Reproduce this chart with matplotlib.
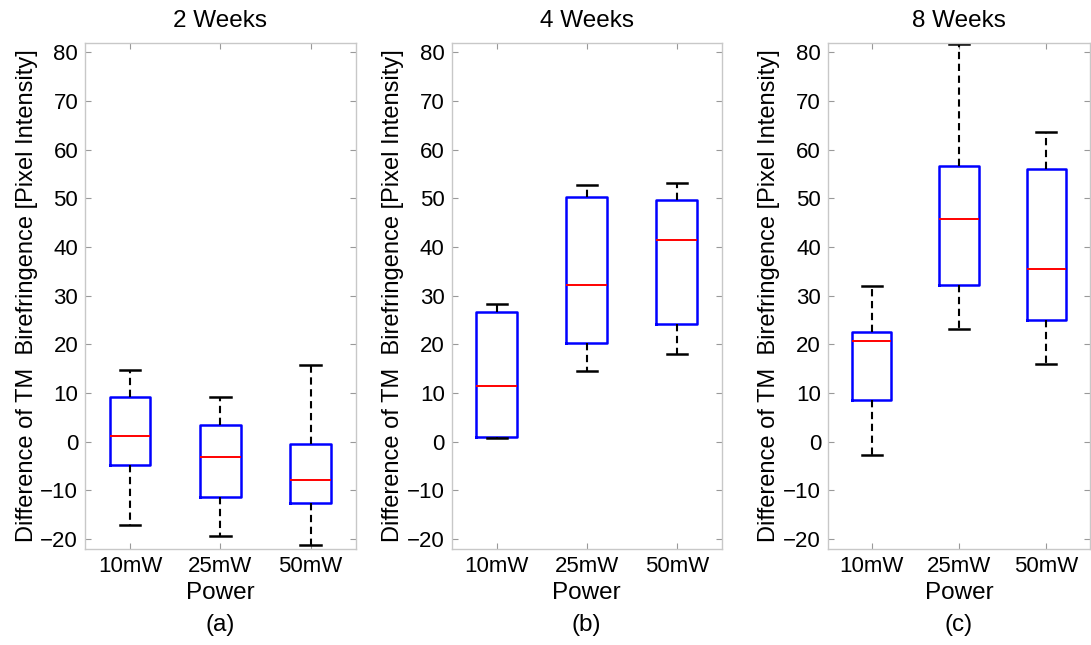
import matplotlib
matplotlib.use('Agg')
import matplotlib.pyplot as plt

plt.rcParams['font.family'] = ['Liberation Sans', 'DejaVu Sans']
plt.rcParams['font.size'] = 16

# Etiquetas
powers = ['10mW', '25mW', '50mW']
titles = ['2 Weeks', '4 Weeks', '8 Weeks']
panels = ['(a)', '(b)', '(c)']

# Estatisticas dos boxplots: min, q1, mediana, q3, max
w2_whislo = [-17.1, -19.3, -21.3]
w2_q1 = [-4.7, -11.4, -12.5]
w2_med = [1.2, -3.2, -7.8]
w2_q3 = [9.3, 3.5, -0.5]
w2_whishi = [14.8, 9.3, 15.7]

w4_whislo = [0.8, 14.5, 18.0]
w4_q1 = [1.0, 20.3, 24.2]
w4_med = [11.5, 32.3, 41.4]
w4_q3 = [26.6, 50.3, 49.7]
w4_whishi = [28.3, 52.8, 53.1]

w8_whislo = [-2.8, 23.1, 15.9]
w8_q1 = [8.6, 32.3, 25.1]
w8_med = [20.6, 45.8, 35.4]
w8_q3 = [22.5, 56.6, 56.1]
w8_whishi = [31.9, 81.7, 63.7]

grupos = [
    (w2_whislo, w2_q1, w2_med, w2_q3, w2_whishi),
    (w4_whislo, w4_q1, w4_med, w4_q3, w4_whishi),
    (w8_whislo, w8_q1, w8_med, w8_q3, w8_whishi),
]

fig = plt.figure(figsize=(10.91, 6.45), dpi=100)
posicoes = [
    [0.078, 0.149, 0.248, 0.785],
    [0.414, 0.149, 0.2475, 0.785],
    [0.759, 0.149, 0.240, 0.785],
]

for i, (lo, q1, med, q3, hi) in enumerate(grupos):
    ax = fig.add_axes(posicoes[i])
    stats = []
    for j in range(len(powers)):
        stats.append({'whislo': lo[j], 'q1': q1[j], 'med': med[j],
                      'q3': q3[j], 'whishi': hi[j], 'fliers': [],
                      'label': powers[j]})
    ax.bxp(stats, positions=[1, 2, 3], widths=0.45, showfliers=False,
           boxprops=dict(color='#0000ff', linewidth=1.8),
           medianprops=dict(color='#ff0000', linewidth=1.4),
           whiskerprops=dict(color='black', linewidth=1.5, linestyle=(0, (3.5, 2.2))),
           capprops=dict(color='black', linewidth=1.8))

    ax.set_xlim(0.5, 3.5)
    ax.set_ylim(-22, 82)
    ax.set_yticks(range(-20, 81, 10))
    ax.set_yticklabels([str(v).replace('-', '\u2212') for v in range(-20, 81, 10)])
    ax.set_xticks([1, 2, 3])
    ax.set_xticklabels(powers)

    for s in ax.spines.values():
        s.set_color('#c8c8c8')
        s.set_linewidth(1.0)
    ax.tick_params(direction='in', length=4, color='#999999', labelsize=16,
                   top=True, right=True, pad=5)

    ax.set_title(titles[i], fontsize=17.5, pad=11)
    ax.set_ylabel('Difference of TM  Birefringence [Pixel Intensity]', fontsize=17, labelpad=2)
    ax.set_xlabel('Power\n' + panels[i], fontsize=17.5, labelpad=4, linespacing=1.55)

fig.savefig('out.png', dpi=100, facecolor='white')
